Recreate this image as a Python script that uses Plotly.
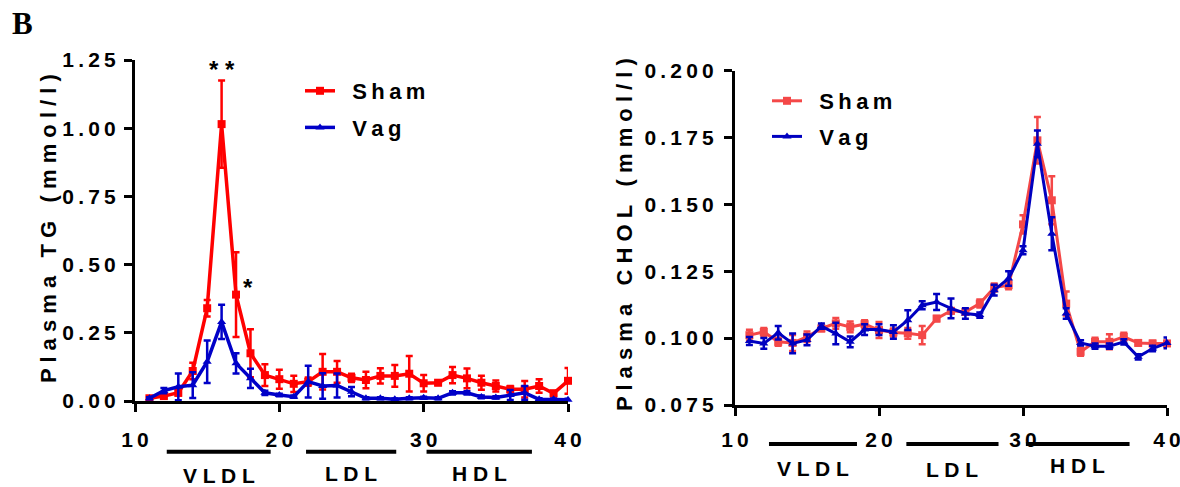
import plotly.graph_objects as go

# ---------------- data ----------------
fractions = list(range(11, 41))

tg_sham = [0.010, 0.018, 0.030, 0.110, 0.340, 1.015, 0.390, 0.175, 0.095, 0.080,
           0.063, 0.071, 0.107, 0.107, 0.085, 0.077, 0.092, 0.092, 0.100, 0.065,
           0.067, 0.095, 0.083, 0.067, 0.055, 0.043, 0.043, 0.055, 0.028, 0.074]
tg_sham_err = [0.005, 0.008, 0.010, 0.030, 0.030, 0.160, 0.155, 0.088, 0.040, 0.035,
               0.030, 0.015, 0.065, 0.040, 0.015, 0.030, 0.028, 0.040, 0.065, 0.030,
               0.008, 0.030, 0.036, 0.026, 0.020, 0.012, 0.030, 0.025, 0.010, 0.047]
tg_vag = [0.010, 0.038, 0.052, 0.058, 0.144, 0.290, 0.138, 0.083, 0.030, 0.022,
          0.016, 0.071, 0.055, 0.057, 0.034, 0.010, 0.010, 0.006, 0.010, 0.012,
          0.010, 0.030, 0.030, 0.015, 0.013, 0.022, 0.030, 0.006, 0.006, 0.005]
tg_vag_err = [0.004, 0.010, 0.049, 0.047, 0.078, 0.063, 0.037, 0.035, 0.008, 0.005,
              0.004, 0.058, 0.047, 0.044, 0.017, 0.004, 0.004, 0.003, 0.004, 0.004,
              0.004, 0.006, 0.006, 0.005, 0.004, 0.018, 0.025, 0.004, 0.003, 0.003]

chol_sham = [0.1011, 0.1023, 0.0986, 0.0982, 0.1005, 0.1036, 0.1055, 0.1042, 0.1052, 0.1030,
             0.1021, 0.1018, 0.1011, 0.1073, 0.1102, 0.1098, 0.1129, 0.1189, 0.1198, 0.1425,
             0.1739, 0.1515, 0.1129, 0.0949, 0.0986, 0.0986, 0.1005, 0.0982, 0.0980, 0.0980]
chol_sham_err = [0.0020, 0.0015, 0.0015, 0.0030, 0.0020, 0.0010, 0.0020, 0.0020, 0.0015, 0.0030,
                 0.0015, 0.0020, 0.0034, 0.0010, 0.0010, 0.0010, 0.0015, 0.0015, 0.0015, 0.0034,
                 0.0087, 0.0090, 0.0045, 0.0015, 0.0015, 0.0028, 0.0015, 0.0010, 0.0010, 0.0010]
chol_vag = [0.0989, 0.0980, 0.1020, 0.0980, 0.0993, 0.1045, 0.1017, 0.0986, 0.1032, 0.1032,
            0.1023, 0.1067, 0.1123, 0.1135, 0.1111, 0.1092, 0.1086, 0.1179, 0.1223, 0.1328,
            0.1726, 0.1390, 0.1092, 0.0982, 0.0970, 0.0970, 0.0986, 0.0930, 0.0961, 0.0982]
chol_vag_err = [0.0015, 0.0020, 0.0025, 0.0037, 0.0020, 0.0010, 0.0040, 0.0020, 0.0020, 0.0020,
                0.0025, 0.0037, 0.0015, 0.0030, 0.0037, 0.0020, 0.0010, 0.0020, 0.0027, 0.0015,
                0.0050, 0.0062, 0.0020, 0.0010, 0.0010, 0.0010, 0.0010, 0.0010, 0.0010, 0.0020]

x_ticks = [10, 20, 30, 40]
tg_ticks = [0.0, 0.25, 0.5, 0.75, 1.0, 1.25]
tg_tick_labels = ["0.00", "0.25", "0.50", "0.75", "1.00", "1.25"]
chol_ticks = [0.075, 0.100, 0.125, 0.150, 0.175, 0.200]
chol_tick_labels = ["0.075", "0.100", "0.125", "0.150", "0.175", "0.200"]

lipo_classes = ["VLDL", "LDL", "HDL"]
tg_class_ranges = [(12.2, 19.4), (21.85, 28.1), (30.2, 37.5)]
chol_class_ranges = [(12.36, 18.47), (21.9, 28.3), (30.2, 37.4)]

series_names = ["Sham", "Vag"]

# ---------------- helpers ----------------
W, H = 1180, 487
TS = "\u2009"   # thin space used as letter spacing
NB = "\u00a0"   # non-breaking space


def spaced(s, sep=TS):
    return sep.join(list(s))


def px_x(p):
    return p / W


def px_y(p):
    return 1 - p / H


FONT = "Liberation Sans, Arial, sans-serif"
RED_L, BLUE_L = "#ff0000", "#0000c8"
RED_R, BLUE_R = "#f44848", "#0000c0"

fig = go.Figure()


def add_series(x, y, err, name, color, symbol, msize, xa, ya, legend, lw, group):
    fig.add_trace(go.Scatter(
        x=x, y=y, name=NB + NB + spaced(name), mode="lines+markers",
        xaxis=xa, yaxis=ya, legend=legend, legendgroup=group,
        line=dict(color=color, width=lw),
        marker=dict(color=color, symbol=symbol, size=msize),
        error_y=dict(type="data", array=err, color=color, thickness=2.5, width=3.5),
        cliponaxis=False,
    ))


add_series(fractions, tg_sham, tg_sham_err, series_names[0], RED_L, "square", 8, "x", "y", "legend", 3.5, "a")
add_series(fractions, tg_vag, tg_vag_err, series_names[1], BLUE_L, "triangle-up", 8, "x", "y", "legend", 3.5, "b")
add_series(fractions, chol_sham, chol_sham_err, series_names[0], RED_R, "square", 8, "x2", "y2", "legend2", 3, "c")
add_series(fractions, chol_vag, chol_vag_err, series_names[1], BLUE_R, "triangle-up", 8, "x2", "y2", "legend2", 3, "d")

axis_common = dict(
    showline=True, linewidth=3, linecolor="black", mirror=False,
    ticks="outside", ticklen=8, tickwidth=3, tickcolor="black",
    showgrid=False, zeroline=False, automargin=False, ticklabeloverflow="allow",
    tickfont=dict(family=FONT, size=21, color="black", weight="bold"),
)

legend_font = dict(family=FONT, size=22, color="black", weight="bold")

fig.update_layout(
    width=W, height=H, margin=dict(l=0, r=0, t=0, b=0, pad=0, autoexpand=False),
    paper_bgcolor="white", plot_bgcolor="white",
    xaxis=dict(domain=[px_x(135), px_x(568)], range=[10, 40], anchor="y",
               tickvals=x_ticks, ticktext=[spaced(str(v)) for v in x_ticks],
               ticklabelstandoff=10, **axis_common),
    yaxis=dict(domain=[px_y(401), px_y(60)], range=[0, 1.25], anchor="x",
               tickvals=tg_ticks, ticktext=[spaced(t) for t in tg_tick_labels],
               ticklabelstandoff=4, **axis_common),
    xaxis2=dict(domain=[px_x(735), px_x(1167)], range=[10, 40], anchor="y2",
                tickvals=x_ticks, ticktext=[spaced(str(v)) for v in x_ticks],
                ticklabelstandoff=6, **axis_common),
    yaxis2=dict(domain=[px_y(405), px_y(70.5)], range=[0.075, 0.2], anchor="x2",
                tickvals=chol_ticks, ticktext=[spaced(t) for t in chol_tick_labels],
                ticklabelstandoff=6, **axis_common),
    legend=dict(x=px_x(300), y=px_y(70), xanchor="left", yanchor="top",
                font=legend_font, traceorder="grouped",
                bgcolor="rgba(0,0,0,0)", itemwidth=30, tracegroupgap=5),
    legend2=dict(x=px_x(767), y=px_y(80), xanchor="left", yanchor="top",
                 font=legend_font, traceorder="grouped",
                 bgcolor="rgba(0,0,0,0)", itemwidth=30, tracegroupgap=4),
    showlegend=True,
)

annotations = []
shapes = []

title_font = dict(family=FONT, size=22, color="black", weight="bold")
class_font = dict(family=FONT, size=21, color="black", weight="bold")


def title_text(words):
    return (NB * 3).join(" ".join(list(w)) for w in words)


# axis titles
annotations.append(dict(text=title_text(["Plasma", "TG", "(mmol/l)"]),
                        x=px_x(48), y=px_y(229), xref="paper", yref="paper", textangle=-90,
                        xanchor="center", yanchor="middle", showarrow=False, font=title_font))
annotations.append(dict(text=title_text(["Plasma", "CHOL", "(mmol/l)"]),
                        x=px_x(624), y=px_y(235), xref="paper", yref="paper", textangle=-90,
                        xanchor="center", yanchor="middle", showarrow=False, font=title_font))

# panel letter
annotations.append(dict(text="<b>B</b>", x=px_x(22), y=px_y(24), xref="paper", yref="paper",
                        xanchor="center", yanchor="middle", showarrow=False,
                        font=dict(family="Liberation Serif, Times New Roman, serif", size=31, color="black")))

# significance marks
star_font = dict(family=FONT, size=24, color="black", weight="bold")
annotations.append(dict(text="*" + NB + "*", x=16, y=1.25, xref="x", yref="y", xanchor="center",
                        yanchor="middle", yshift=-9, showarrow=False, font=star_font))
annotations.append(dict(text="*", x=17.85, y=0.43, xref="x", yref="y", xanchor="center",
                        yanchor="middle", yshift=-4, showarrow=False, font=star_font))

# lipoprotein class bars and labels
for (name, (a, b)), ly, ty in zip(zip(lipo_classes, tg_class_ranges), [451.7] * 3, [475, 473, 473]):
    shapes.append(dict(type="line", xref="x", yref="paper", x0=a, x1=b, y0=px_y(ly), y1=px_y(ly),
                       line=dict(color="black", width=4)))
    annotations.append(dict(text=spaced(name, " "), x=(a + b) / 2, y=px_y(ty), xref="x", yref="paper",
                            xanchor="center", yanchor="middle", showarrow=False, font=class_font))
for (name, (a, b)), ly, ty in zip(zip(lipo_classes, chol_class_ranges), [444] * 3, [468, 469, 465]):
    shapes.append(dict(type="line", xref="x2", yref="paper", x0=a, x1=b, y0=px_y(ly), y1=px_y(ly),
                       line=dict(color="black", width=4)))
    annotations.append(dict(text=spaced(name, " "), x=(a + b) / 2, y=px_y(ty), xref="x2", yref="paper",
                            xanchor="center", yanchor="middle", showarrow=False, font=class_font))

fig.update_layout(annotations=annotations, shapes=shapes)
fig.write_html("out.html")
